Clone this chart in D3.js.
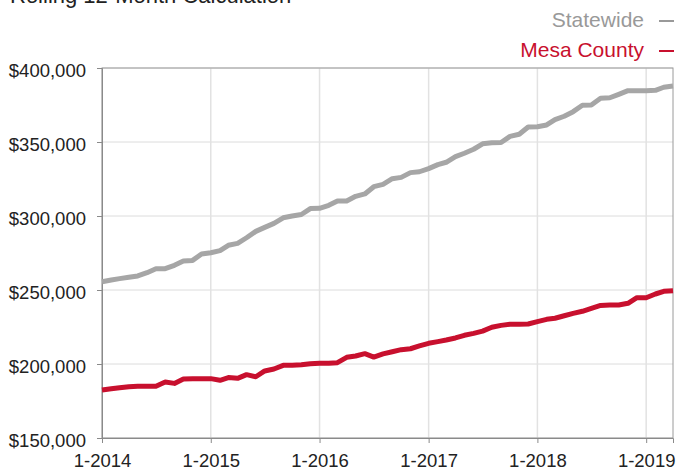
<!DOCTYPE html>
<html lang="en">
<head>
    <meta charset="utf-8" />
    <title>Rolling 12-Month Calculation</title>
    <script src="https://d3js.org/d3.v7.min.js"></script>
    <style>
        body { margin: 0; background: #fff; }
        svg text { font-family: "Liberation Sans", Arial, Helvetica, sans-serif; }
    </style>
</head>
<body>
    <svg id="chart"></svg>
    <script>
        let width = 676, height = 470;

        // monthly points, 1-2014 .. 4-2019
        const months = d3.timeMonth.range(new Date(2014, 0, 1), new Date(2019, 4, 1));

        const statewide = [
            255600, 256800, 257700, 258600, 259500, 261700, 264400, 264400, 266700, 269600, 270000, 274300,
            275200, 276600, 280200, 281500, 285300, 289600, 292300, 295000, 298800, 300000, 301000, 305000,
            305200, 307200, 310100, 310100, 313300, 314900, 319800, 321400, 325200, 326100, 329300, 329900,
            332000, 334700, 336300, 340100, 342400, 345100, 348800, 349500, 349700, 353800, 355200, 360100,
            360300, 361500, 365100, 367400, 370500, 374800, 375000, 379500, 379900, 382200, 384700, 384700,
            384700, 384900, 387000, 387800
        ];

        const mesaCounty = [
            182400, 183300, 184000, 184700, 185000, 185000, 185000, 187800, 186900, 189900, 190100, 190100,
            190100, 189000, 190800, 190300, 192800, 191400, 195300, 196600, 199100, 199200, 199500, 200200,
            200500, 200500, 200900, 204500, 205400, 207000, 204700, 206800, 208300, 209700, 210300, 212200,
            214000, 215100, 216200, 217600, 219400, 220700, 222200, 224800, 226100, 226800, 226800, 227000,
            228600, 230200, 230900, 232600, 234200, 235600, 237600, 239600, 239900, 239900, 241000, 244800,
            244800, 247300, 249100, 249500
        ];

        const yTicks = [150000, 200000, 250000, 300000, 350000, 400000];
        const xTicks = [2014, 2015, 2016, 2017, 2018, 2019].map(y => new Date(y, 0, 1));

        const seriesNames = ["Statewide", "Mesa County"];
        const seriesColors = ["#a6a6a6", "#c8102e"];
        const legendColors = ["#999999", "#c8102e"];

        let margin = { top: 68, right: 3, bottom: 32, left: 102 };

        let svg = d3.select("#chart")
            .attr("width", width)
            .attr("height", height);

        let x = d3.scaleTime()
            .domain([months[0], months[months.length - 1]])
            .range([margin.left, width - margin.right]);

        let y = d3.scaleLinear()
            .domain([150000, 400000])
            .range([height - margin.bottom, margin.top]);

        // title, mostly cut off at the top
        svg.append("text")
            .attr("x", 10)
            .attr("y", 3)
            .attr("font-size", 22)
            .attr("fill", "#222")
            .text("Rolling 12-Month Calculation");

        // gridlines
        svg.append("g")
            .selectAll("line")
            .data(yTicks)
            .join("line")
            .attr("x1", margin.left).attr("x2", width - margin.right)
            .attr("y1", d => y(d)).attr("y2", d => y(d))
            .attr("stroke", "#dcdcdc").attr("stroke-width", 1);

        svg.append("g")
            .selectAll("line")
            .data(xTicks)
            .join("line")
            .attr("x1", d => x(d)).attr("x2", d => x(d))
            .attr("y1", margin.top).attr("y2", height - margin.bottom)
            .attr("stroke", "#e2e2e2").attr("stroke-width", 1.5);

        // frame
        svg.append("rect")
            .attr("x", margin.left)
            .attr("y", margin.top)
            .attr("width", width - margin.right - margin.left)
            .attr("height", height - margin.bottom - margin.top)
            .attr("fill", "none")
            .attr("stroke", "#9a9a9a")
            .attr("stroke-width", 1);

        // axes
        let yAxis = d3.axisLeft(y)
            .tickValues(yTicks)
            .tickFormat(d => "$" + d3.format(",")(d))
            .tickSize(5)
            .tickPadding(11);

        let xAxis = d3.axisBottom(x)
            .tickValues(xTicks)
            .tickFormat(d3.timeFormat("%-m-%Y"))
            .tickSize(5)
            .tickPadding(11);

        let gy = svg.append("g")
            .attr("transform", "translate(" + margin.left + ",0)")
            .call(yAxis);

        let gx = svg.append("g")
            .attr("transform", "translate(0," + (height - margin.bottom) + ")")
            .call(xAxis);

        [gx, gy].forEach(g => {
            g.select(".domain").attr("stroke", "#8a8a8a");
            g.selectAll(".tick line").attr("stroke", "#8a8a8a");
            g.selectAll(".tick text")
                .attr("font-size", 18.5)
                .attr("font-family", "'Liberation Sans', Arial, sans-serif")
                .attr("fill", "#222");
        });
        gy.selectAll(".tick text").attr("dy", "0.45em");
        gx.selectAll(".tick text").attr("dy", "0.68em");

        // lines
        let line = d3.line()
            .x((d, i) => x(months[i]))
            .y(d => y(d));

        [statewide, mesaCounty].forEach((values, k) => {
            svg.append("path")
                .datum(values)
                .attr("d", line)
                .attr("fill", "none")
                .attr("stroke", seriesColors[k])
                .attr("stroke-width", 5)
                .attr("stroke-linejoin", "round");
        });

        // legend
        let legend = svg.append("g")
            .selectAll("g")
            .data(seriesNames)
            .join("g")
            .attr("transform", (d, i) => "translate(0," + (27 + i * 30) + ")");

        legend.append("text")
            .attr("x", 644)
            .attr("text-anchor", "end")
            .attr("font-size", 21)
            .attr("fill", (d, i) => legendColors[i])
            .text(d => d);

        legend.append("line")
            .attr("x1", 659).attr("x2", 674)
            .attr("y1", -6).attr("y2", -6)
            .attr("stroke", (d, i) => legendColors[i])
            .attr("stroke-width", 2);
    </script>
</body>
</html>
